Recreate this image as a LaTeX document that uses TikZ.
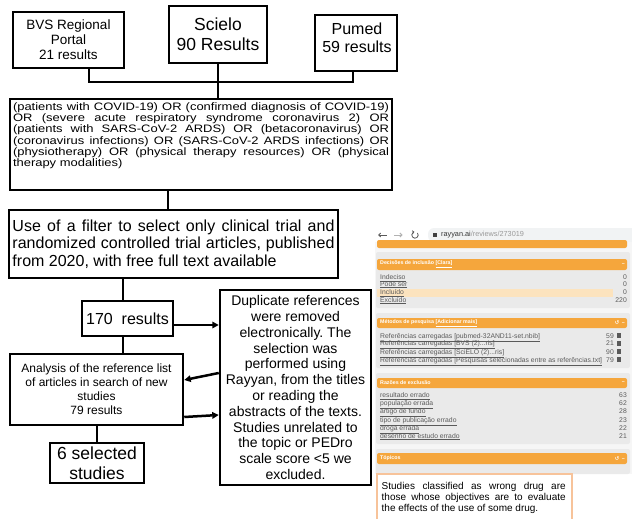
\documentclass[tikz,border=0pt]{standalone}
\usepackage{fontspec}
\setmainfont{Liberation Sans}
\newfontfamily\qfont[FakeStretch=1.2]{Liberation Sans}
\newfontfamily\dejavu{DejaVu Sans}
\usetikzlibrary{arrows.meta}
\definecolor{rorange}{HTML}{F5A63C}
\definecolor{rhigh}{HTML}{FCE3BE}
\definecolor{rpanel}{HTML}{EAEAEA}
\definecolor{rback}{HTML}{F6F6F6}
\definecolor{ritem}{HTML}{5A5A5A}
\definecolor{rurl}{HTML}{F1F3F4}
\definecolor{rnote}{HTML}{F7C39A}
\frenchspacing
\begin{document}
\begin{tikzpicture}[x=1pt,y=-1pt,
  box/.style={draw=black, line width=2.5pt, inner sep=0pt, fill=white},
  conn/.style={line width=2.5pt},
  arr/.style={line width=2.5pt, -{Triangle[length=6.5pt,width=6.5pt]}},
  hdr/.style={anchor=west, inner sep=0pt, text=white, font=\fontsize{5.3}{6}\selectfont\bfseries},
  item/.style={anchor=base west, inner sep=0pt, text=ritem, font=\fontsize{6.8}{7.5}\selectfont},
  val/.style={anchor=base east, inner sep=0pt, text=ritem, font=\fontsize{6.8}{7.5}\selectfont},
]
\useasboundingbox (0,0) rectangle (632,519);

% ---------------- flow chart boxes ----------------
\node[box, align=center, minimum width=111pt, minimum height=56pt, font=\fontsize{13.5}{15}\selectfont] (bvs) at (68.5,40) {BVS Regional\\Portal\\21 results};
\node[box, align=center, minimum width=98pt, minimum height=57pt, font=\fontsize{17.5}{20}\selectfont] (scielo) at (218,34.5) {Scielo\\90 Results};
\node[box, minimum width=82pt, minimum height=56pt] (pumed) at (356,43) {};
\node[align=center, inner sep=0pt, font=\fontsize{16}{18}\selectfont] (pumedt) at (357,37.5) {Pumed\\59 results};

\node[box, line width=2pt, minimum width=382pt, minimum height=91pt] (query) at (201,144.5)
 {\parbox[c][87pt][t]{376pt}{\vspace*{1.5pt}\qfont\fontsize{10.8}{11.3}\selectfont
 (patients with COVID-19) OR (confirmed diagnosis of COVID-19)\linebreak
 OR (severe acute respiratory syndrome coronavirus 2) OR\linebreak
 (patients with SARS-CoV-2 ARDS) OR (betacoronavirus) OR\linebreak
 (coronavirus infections) OR (SARS-CoV-2 ARDS infections) OR\linebreak
 (physiotherapy) OR (physical therapy resources) OR (physical\linebreak
 therapy modalities)}};

\node[box, minimum width=329pt, minimum height=68pt, text width=322pt, align=justify, font=\fontsize{16}{17.5}\selectfont] (filter) at (173.5,244)
 {Use of a filter to select only clinical trial and randomized controlled trial articles, published from 2020, with free full text available};

\node[box, minimum width=91pt, minimum height=35pt, font=\fontsize{16}{18}\selectfont] (r170) at (127.5,318.5) {170~ results};
\node[box, align=center, minimum width=173pt, minimum height=71pt, font=\fontsize{12}{14}\selectfont] (analysis) at (96.5,389.5) {Analysis of the reference list\\of articles in search of new\\studies\\79 results};
\node[box, align=center, minimum width=94pt, minimum height=40pt, font=\fontsize{17.5}{20}\selectfont] (selected) at (97,463) {6 selected\\studies};
\node[box, align=center, minimum width=151pt, minimum height=195pt, font=\fontsize{14}{15.8}\selectfont] (dup) at (295.5,387.5)
 {Duplicate references\\were removed\\electronically. The\\selection was\\performed using\\Rayyan, from the titles\\or reading the\\abstracts of the texts.\\Studies unrelated to\\the topic or PEDro\\scale score <5 we\\excluded.};

% ---------------- connectors ----------------
\coordinate (jl) at (89,82);
\coordinate (jr) at (353,82);
\draw[conn] (jl |- bvs.south) -- (jl) -- (jr) -- (jr |- pumed.south);
\draw[conn] (scielo.south) -- (scielo.south |- query.north);
\coordinate (c1) at (168,0);
\draw[conn] (c1 |- query.south) -- (c1 |- filter.north);
\coordinate (c2) at (123,0);
\draw[conn] (c2 |- filter.south) -- (c2 |- r170.north);
\draw[conn] (c2 |- r170.south) -- (c2 |- analysis.north);
\draw[conn] (selected.north) -- (selected.north |- analysis.south);
\coordinate (a1) at (0,325);
\draw[arr] (a1 -| r170.east) -- (a1 -| dup.west);
\coordinate (a2s) at (0,373);
\coordinate (a2e) at (0,380);
\draw[arr] (a2s -| dup.west) -- (a2e -| analysis.east);
\coordinate (a3s) at (0,417);
\coordinate (a3e) at (0,415);
\draw[arr] (a3s -| analysis.east) -- (a3e -| dup.west);

% ---------------- Rayyan screenshot ----------------
\begin{scope}
\clip (372,222) rectangle (632,519);
% browser bar
\fill[rurl, rounded corners=6pt] (428,228) rectangle (660,242);
\draw[ritem, line width=0.9pt, -{Straight Barb[length=2pt,width=4pt]}] (386.5,235) -- (378,235);
\draw[black!30, line width=0.9pt, -{Straight Barb[length=2pt,width=4pt]}] (394,235) -- (402.5,235);
\draw[ritem, line width=0.8pt, -{Straight Barb[length=1.5pt,width=3pt]}] ([shift={(-40:3.2)}]415,235) arc[start angle=-40, end angle=260, radius=3.2];
\fill[black!75] (433,233.2) rectangle (436.5,237);
\node[anchor=west, inner sep=0pt, font=\fontsize{7.3}{8}\selectfont] (url) at (441,235) {\textcolor{black!80}{rayyan.ai}\textcolor{black!40}{/reviews/273019}};

% panels
\fill[rback] (375,242) rectangle (640,474);
\fill[rorange, rounded corners=2pt] (377,240) rectangle (627,248);

\fill[rpanel, rounded corners=2pt] (376,252) rectangle (630,308);
\fill[rorange, rounded corners=2pt] (377,259) rectangle (627,270);
\node[hdr] (h1) at (380,264.5) {Decisões de inclusão \underline{[Clara]}};
\node[hdr, anchor=east] (h1m) at (625,264.5) {–};
\fill[rhigh] (377,288.5) rectangle (613,296.5);
\node[item] (i11) at (380,279.5) {\underline{Indeciso}};
\node[val] (v11) at (627,279.5) {0};
\node[item] (i12) at (380,286) {\underline{Pode ser}};
\node[val] (v12) at (627,286) {0};
\node[item] (i13) at (380,294.5) {\underline{Incluído}};
\node[val] (v13) at (627,294.5) {0};
\node[item] (i14) at (380,302) {\underline{Excluído}};
\node[val] (v14) at (627,302) {220};

\fill[rpanel, rounded corners=2pt] (376,313) rectangle (630,368);
\fill[rorange, rounded corners=2pt] (377,318) rectangle (627,328);
\node[hdr] (h2) at (380,323) {Métodos de pesquisa \underline{[Adicionar mais]}};
\node[hdr, anchor=east] (h2m) at (625,323) {{\dejavu ↺}\enspace –};
\node[item] (i21) at (380,338) {\underline{Referências carregadas [pubmed-32AND11-set.nbib]}};
\node[val] (v21) at (614,338) {59};
\node[item] (i22) at (380,345.5) {\underline{Referências carregadas [BVS (2)...ris]}};
\node[val] (v22) at (614,345.5) {21};
\node[item] (i23) at (380,354) {\underline{Referências carregadas [SciELO (2)...ris]}};
\node[val] (v23) at (614,354) {90};
\node[item] (i24) at (380,362) {\underline{Referências carregadas [Pesquisas selecionadas entre as referências.txt]}};
\node[val] (v24) at (614,362) {79};
\foreach \yy in {338,345.5,354,362} \fill[ritem] (616.5,\yy-4.8) rectangle (620.5,\yy);

\fill[rpanel, rounded corners=2pt] (376,373) rectangle (630,444);
\fill[rorange, rounded corners=2pt] (377,378) rectangle (627,388);
\node[hdr] (h3) at (380,383) {Razões de exclusão};
\node[hdr, anchor=east] (h3m) at (625,383) {–};
\node[item] (i31) at (380,397.7) {\underline{resultado errado}};
\node[val] (v31) at (627,397.7) {63};
\node[item] (i32) at (380,405.3) {\underline{população errada}};
\node[val] (v32) at (627,405.3) {62};
\node[item] (i33) at (380,413.7) {\underline{artigo de fundo}};
\node[val] (v33) at (627,413.7) {28};
\node[item] (i34) at (380,422) {\underline{tipo de publicação errado}};
\node[val] (v34) at (627,422) {23};
\node[item] (i35) at (380,430.3) {\underline{droga errada}};
\node[val] (v35) at (627,430.3) {22};
\node[item] (i36) at (380,438) {\underline{desenho de estudo errado}};
\node[val] (v36) at (627,438) {21};

\fill[rpanel, rounded corners=2pt] (376,449) rectangle (630,474);
\fill[rorange, rounded corners=2pt] (377,453) rectangle (627,464);
\node[hdr] (h4) at (380,458.5) {Tópicos};
\node[hdr, anchor=east] (h4m) at (625,458.5) {{\dejavu ↺}\enspace –};

% note box
\filldraw[draw=rnote, fill=white, line width=1.2pt] (377,530) -- (377,474) -- (572,474) -- (572,530);
\node[anchor=north west, inner sep=0pt, text width=184pt, align=justify, font=\fontsize{10}{10.8}\selectfont] (note) at (381.5,482)
 {Studies classified as wrong drug are\linebreak those whose objectives are to evaluate\linebreak the effects of the use of some drug.};
\end{scope}
\end{tikzpicture}
\end{document}
